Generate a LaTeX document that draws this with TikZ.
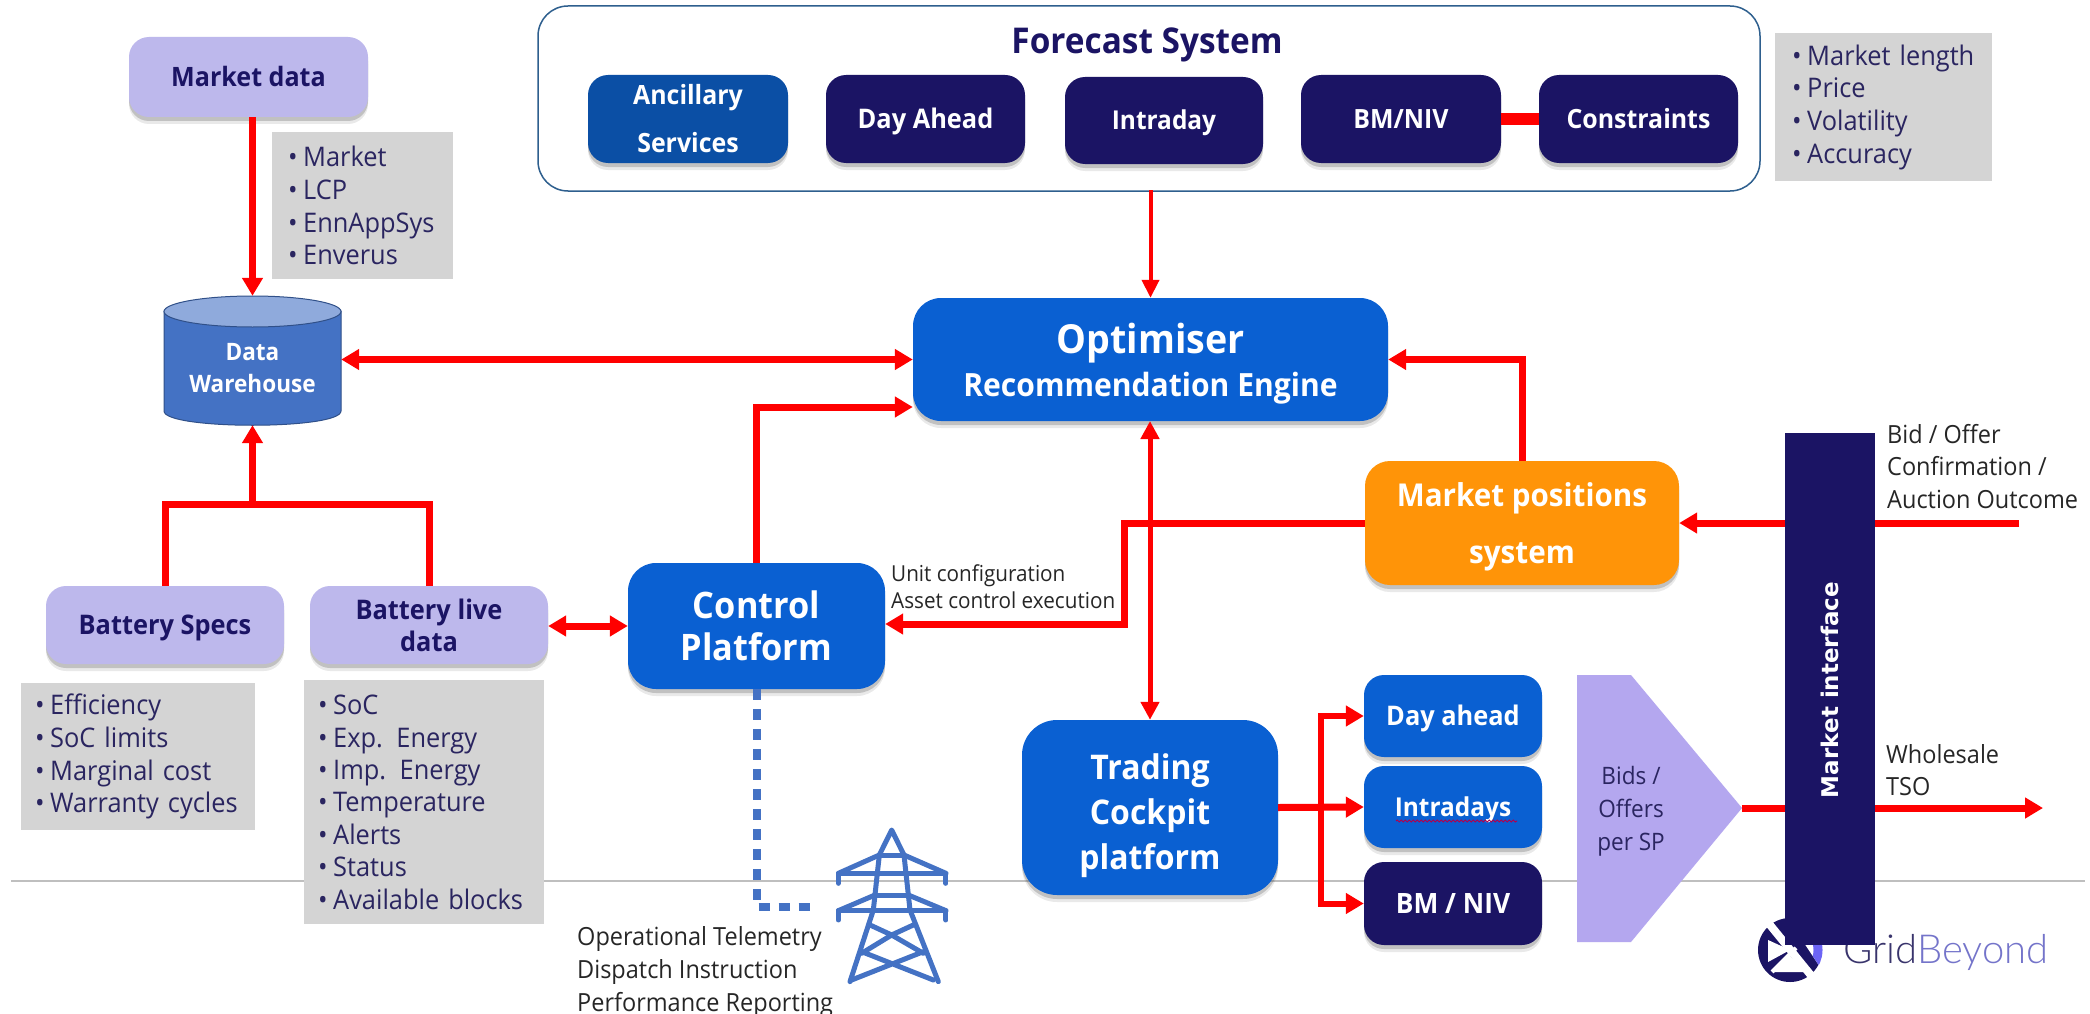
\documentclass[tikz,border=0pt]{standalone}
\usepackage{fontspec}
\setmainfont[FakeStretch=0.94]{Open Sans}
\newfontfamily\barfont{DejaVu Sans}
\newfontfamily\logofont{Lato Light}
\usetikzlibrary{arrows.meta,shadows,calc,decorations.pathmorphing}
\definecolor{navy}{HTML}{1B1464}
\definecolor{lilac}{HTML}{BDB8EC}
\definecolor{bluebox}{HTML}{0A60D2}
\definecolor{ancil}{HTML}{0B4FA5}
\definecolor{greyb}{HTML}{D4D4D4}
\definecolor{orangeb}{HTML}{FF9408}
\definecolor{cylb}{HTML}{4472C4}
\definecolor{cylt}{HTML}{8FAADC}
\definecolor{pent}{HTML}{B4A7EF}
\definecolor{listtxt}{HTML}{2A2560}
\definecolor{fcborder}{HTML}{2E5F8E}
\newcommand{\fsz}[2]{\fontsize{#1}{#2}\selectfont}
\newcommand{\bx}[7]{%
  \pgfmathsetmacro{\bw}{#5-#3}\pgfmathsetmacro{\bh}{#6-#4}%
  \pgfmathsetmacro{\bcx}{(#3+#5)/2}\pgfmathsetmacro{\bcy}{(#4+#6)/2}%
  \node[#2,minimum width=\bw pt,minimum height=\bh pt] (#1) at (\bcx,\bcy) {#7};}
\newcommand{\li}[1]{\makebox[15pt][l]{\textbullet}#1\\}
\tikzset{
  base/.style={rounded corners=#1,inner sep=0pt,align=center,font=\bfseries,
    general shadow={shadow yshift=-7pt,opacity=.12,fill=black!70},
    general shadow={shadow yshift=-4pt,opacity=.25,fill=black!70}},
  oneline/.style={text height=24pt,text depth=5pt},
  lav/.style={base=20pt,fill=lilac,text=navy},
  blu/.style={base=20pt,fill=bluebox,text=white},
  nav/.style={base=20pt,fill=navy,text=white},
  anc/.style={base=20pt,fill=ancil,text=white},
  org/.style={base=25pt,fill=orangeb,text=white},
  greybox/.style={fill=greyb,text=listtxt,align=left,inner sep=0pt,anchor=north west},
  note/.style={text=black!85,align=left,inner sep=0pt,anchor=west},
  rl/.style={draw=red,line width=7pt},
  ra/.style={rl,-{Triangle[length=18pt,width=20pt]}},
  rb/.style={rl,{Triangle[length=18pt,width=20pt]}-{Triangle[length=18pt,width=20pt]}},
  rs/.style={rl,{Triangle[length=18pt,width=20pt]}-},
  tower/.style={draw=cylb,line width=5pt,line cap=round,line join=round},
}
\begin{document}
\begin{tikzpicture}[x=1pt,y=-1pt]
\useasboundingbox (0,0) rectangle (2090,1014);
\fill[white] (0,0) rectangle (2090,1014);
\draw[black!25,line width=1.5pt] (11,881) -- (2085,881);

% logo
\begin{scope}
  \fill[navy] (1790,950) circle (32);
  \begin{scope}
    \clip (1790,950) ++(-8,-40) -- ++(60,0) -- ++(0,60) -- ++(-20,0) -- cycle;
    \fill[white] (1790,950) circle (33);
    \draw[draw=pent!60!blue,line width=9pt] (1790,950) circle (28);
  \end{scope}
  \fill[white] (1790,950) -- (1768,940) -- (1768,962) -- cycle;
  \fill[white] (1790,956) -- (1774,972) -- (1806,972) -- cycle;
  \draw[white,line width=8pt] (1766,920) -- (1818,984);
  \draw[white,line width=4pt] (1772,972) -- (1796,948);
\end{scope}
\node[anchor=base west,inner sep=0pt,font=\logofont\fsz{40}{44}] (logo) at (1843,963)
  {\textcolor{navy!70!gray}{Grid}\textcolor{blue!45!gray!75}{Beyond}};

% forecast group
\node[draw=fcborder,line width=1.5pt,rounded corners=30pt,fill=white,
  minimum width=1222pt,minimum height=185pt] (fc) at (1149,98.5) {};
\node[text=navy,font=\bfseries\fsz{35.5}{40},inner sep=0pt] (fctitle) at (1147,45) {Forecast System};
\bx{anc}{anc,font=\bfseries\fsz{26.5}{48}}{588}{75}{788}{163}{Ancillary\\Services}
\bx{dah}{nav,oneline,font=\bfseries\fsz{27}{30}}{826}{75}{1025}{163}{Day Ahead}
\bx{intr}{nav,oneline,font=\bfseries\fsz{26}{30}}{1065}{77}{1263}{164}{Intraday}
\bx{bmf}{nav,oneline,font=\bfseries\fsz{26.5}{30}}{1301}{75}{1501}{163}{BM/NIV}
\bx{con}{nav,oneline,font=\bfseries\fsz{26.5}{30}}{1539}{75}{1738}{163}{Constraints}
\draw[draw=red,line width=12pt] (bmf.east) -- (con.west);
\node[greybox,minimum width=217pt,minimum height=148pt,font=\fsz{27}{32.7},text width=183pt,inner xsep=17pt] (g4) at (1775,33)
  {\li{Market length}\li{Price}\li{Volatility}\li{Accuracy}};

% left column
\bx{md}{lav,oneline,font=\bfseries\fsz{26.7}{30}}{129}{37}{368}{117}{Market data}
\node[greybox,minimum width=181pt,minimum height=147pt,font=\fsz{27}{32.7},text width=149pt,inner xsep=16pt] (g1) at (272,132)
  {\li{Market}\li{LCP}\li{EnnAppSys}\li{Enverus}};
% cylinder
\fill[cylb,draw=cylb!70!black,line width=1pt] (164,311) -- (164,411) .. controls (164,430) and (341,430) .. (341,411) -- (341,311) -- cycle;
\fill[cylt,draw=cylb!70!black,line width=1pt] (252.5,311.5) ellipse [x radius=88.5,y radius=15.5];
\node[minimum width=177pt,minimum height=129pt,inner sep=0pt] (dw) at (252.5,360.5) {};
\node[text=white,font=\bfseries\fsz{24}{32},align=center,inner sep=0pt] (dwt) at (252.5,368) {Data\\Warehouse};

\bx{bs}{lav,oneline,font=\bfseries\fsz{27}{30}}{46}{586}{284}{664}{Battery Specs}
\bx{bl}{lav,font=\bfseries\fsz{27}{32}}{310}{586}{548}{664}{Battery live\\data}
\node[greybox,minimum width=234pt,minimum height=147pt,font=\fsz{27}{32.7},text width=206pt,inner xsep=14pt] (g2) at (21,683)
  {\li{Efficiency}\li{SoC limits}\li{Marginal cost}\li{Warranty cycles}};
\node[greybox,minimum width=240pt,minimum height=244pt,font=\fsz{27}{32.4},text width=212pt,inner xsep=14pt] (g3) at (304,680)
  {\li{SoC}\li{Exp. Energy}\li{Imp. Energy}\li{Temperature}\li{Alerts}\li{Status}\li{Available blocks}};

% centre
\bx{opt}{base=28pt,fill=bluebox,text=white}{913}{298}{1388}{421}{\rule{0pt}{38pt}{\fsz{40}{44}Optimiser}\\[8pt]{\fsz{32}{34}Recommendation Engine}}
\bx{ctl}{base=28pt,fill=bluebox,text=white,font=\bfseries\fsz{36.5}{42}}{628}{563}{885}{689}{Control\\Platform}
\bx{mp}{org,font=\bfseries\fsz{31.5}{57}}{1365}{461}{1679}{585}{\rule{0pt}{32pt}Market positions\\system}
\bx{tr}{base=35pt,fill=bluebox,text=white,font=\bfseries\fsz{34}{45}}{1022}{720}{1278}{895}{\rule{0pt}{42pt}Trading\\Cockpit\\platform}
\bx{da}{blu,oneline,font=\bfseries\fsz{27}{30}}{1364}{675}{1542}{757}{Day ahead}
\bx{idy}{blu,oneline,font=\bfseries\fsz{26}{30}}{1364}{766}{1542}{848}{Intradays}
\bx{bm}{nav,oneline,font=\bfseries\fsz{28}{30}}{1364}{862}{1542}{945}{BM / NIV}
\draw[draw=red!70!blue,line width=1pt,decorate,decoration={snake,amplitude=1pt,segment length=4pt}] (1396,821) -- (1517,821);

% bids pentagon
\fill[pent] (1577,675) -- (1631,675) -- (1742,808) -- (1631,942) -- (1577,942) -- cycle;
\coordinate (btip) at (1742,808);
\node[text=listtxt,font=\fsz{24}{33},align=center,inner sep=0pt] (bids) at (1631,811) {Bids /\\Offers\\per SP};

% connectors
\draw[ra] (md.south -| dw.north) -- (dw.north);
\coordinate (jn) at (252.5,504);
\draw[rl] (bs.north) |- (jn) -| (bl.north);
\draw[ra] (jn) -- (dw.south);
\draw[rb] (dw.east |- opt.west) -- (opt.west);
\draw[rb] (bl.east |- ctl.west) -- (ctl.west);
\draw[ra] (ctl.north) |- ([yshift=-47.5pt]opt.west);
\draw[draw=red,line width=4pt,-{Triangle[length=18pt,width=17pt]}] (fc.south) -- (fc.south -| opt.north) -- (opt.north);
\coordinate (vb) at (1124,624);
\draw[ra] (mp.west) -| (vb) -- (ctl.east |- vb);
\coordinate (vx) at (1150,421);
\draw[draw=red,line width=5pt,{Triangle[length=18pt,width=18pt]}-{Triangle[length=18pt,width=18pt]}] (vx) -- (vx |- tr.north);
\draw[ra] (mp.north) |- (opt.east);
\coordinate (trk) at (1321,807);
\draw[ra] (tr.east) -- (idy.west);
\draw[rs,line width=6pt] (da.west) -| (trk);
\draw[rs,line width=6pt] (bm.west) -| (trk);

% market interface
\node[fill=navy,minimum width=90pt,minimum height=512pt,inner sep=0pt] (mi) at (1830,689) {};
\node[rotate=90,text=white,font=\barfont\bfseries\fsz{23}{26},inner sep=0pt] (mit) at (1830,690) {Market interface};
\draw[ra] (mi.west |- mp.east) -- (mp.east);
\coordinate (inb) at (2019,523);
\draw[rl] (inb) -- (mi.east |- inb);
\draw[rl] (btip) -- (mi.west |- btip);
\coordinate (outw) at (2043,808);
\draw[ra] (mi.east |- outw) -- (outw);

% notes
\node[note,font=\fsz{22}{27.5}] (ucfg) at (891,586.5) {Unit configuration\\Asset control execution};
\node[note,font=\fsz{25}{32.6},anchor=north west] (bo) at (1887,424) {Bid / Offer\\Confirmation /\\Auction Outcome};
\node[note,font=\fsz{25}{32}] (wh) at (1886,770) {Wholesale\\TSO};
\node[note,font=\fsz{25}{32.7}] (op) at (577,972) {Operational Telemetry\\Dispatch Instruction\\Performance Reporting};

% dashed link
\coordinate (dend) at (810,907);
\draw[draw=cylb,line width=8pt,dash pattern=on 11pt off 9pt] (ctl.south) |- (dend);

% pylon
\begin{scope}[shift={(820,820)},x=0.3333pt,y=-0.3333pt]
  \draw[tower] (178,105) -- (215,30) -- (252,105);
  \draw[tower] (178,105) -- (160,270) -- (90,485);
  \draw[tower] (252,105) -- (270,270) -- (355,485);
  \draw[tower] (178,105) -- (252,105);
  \draw[tower] (55,190) -- (55,160) -- (378,160) -- (378,190);
  \draw[tower] (55,160) -- (178,105) (378,160) -- (252,105);
  \draw[tower] (165,225) -- (265,225);
  \draw[tower] (55,300) -- (55,272) -- (378,272) -- (378,300);
  \draw[tower] (55,272) -- (165,225) (378,272) -- (265,225);
  \draw[tower] (150,315) -- (215,345) -- (280,315);
  \draw[tower] (215,345) -- (310,400) (215,345) -- (125,400);
  \draw[tower] (125,395) -- (340,480) (310,395) -- (95,480);
\end{scope}
\end{tikzpicture}
\end{document}
